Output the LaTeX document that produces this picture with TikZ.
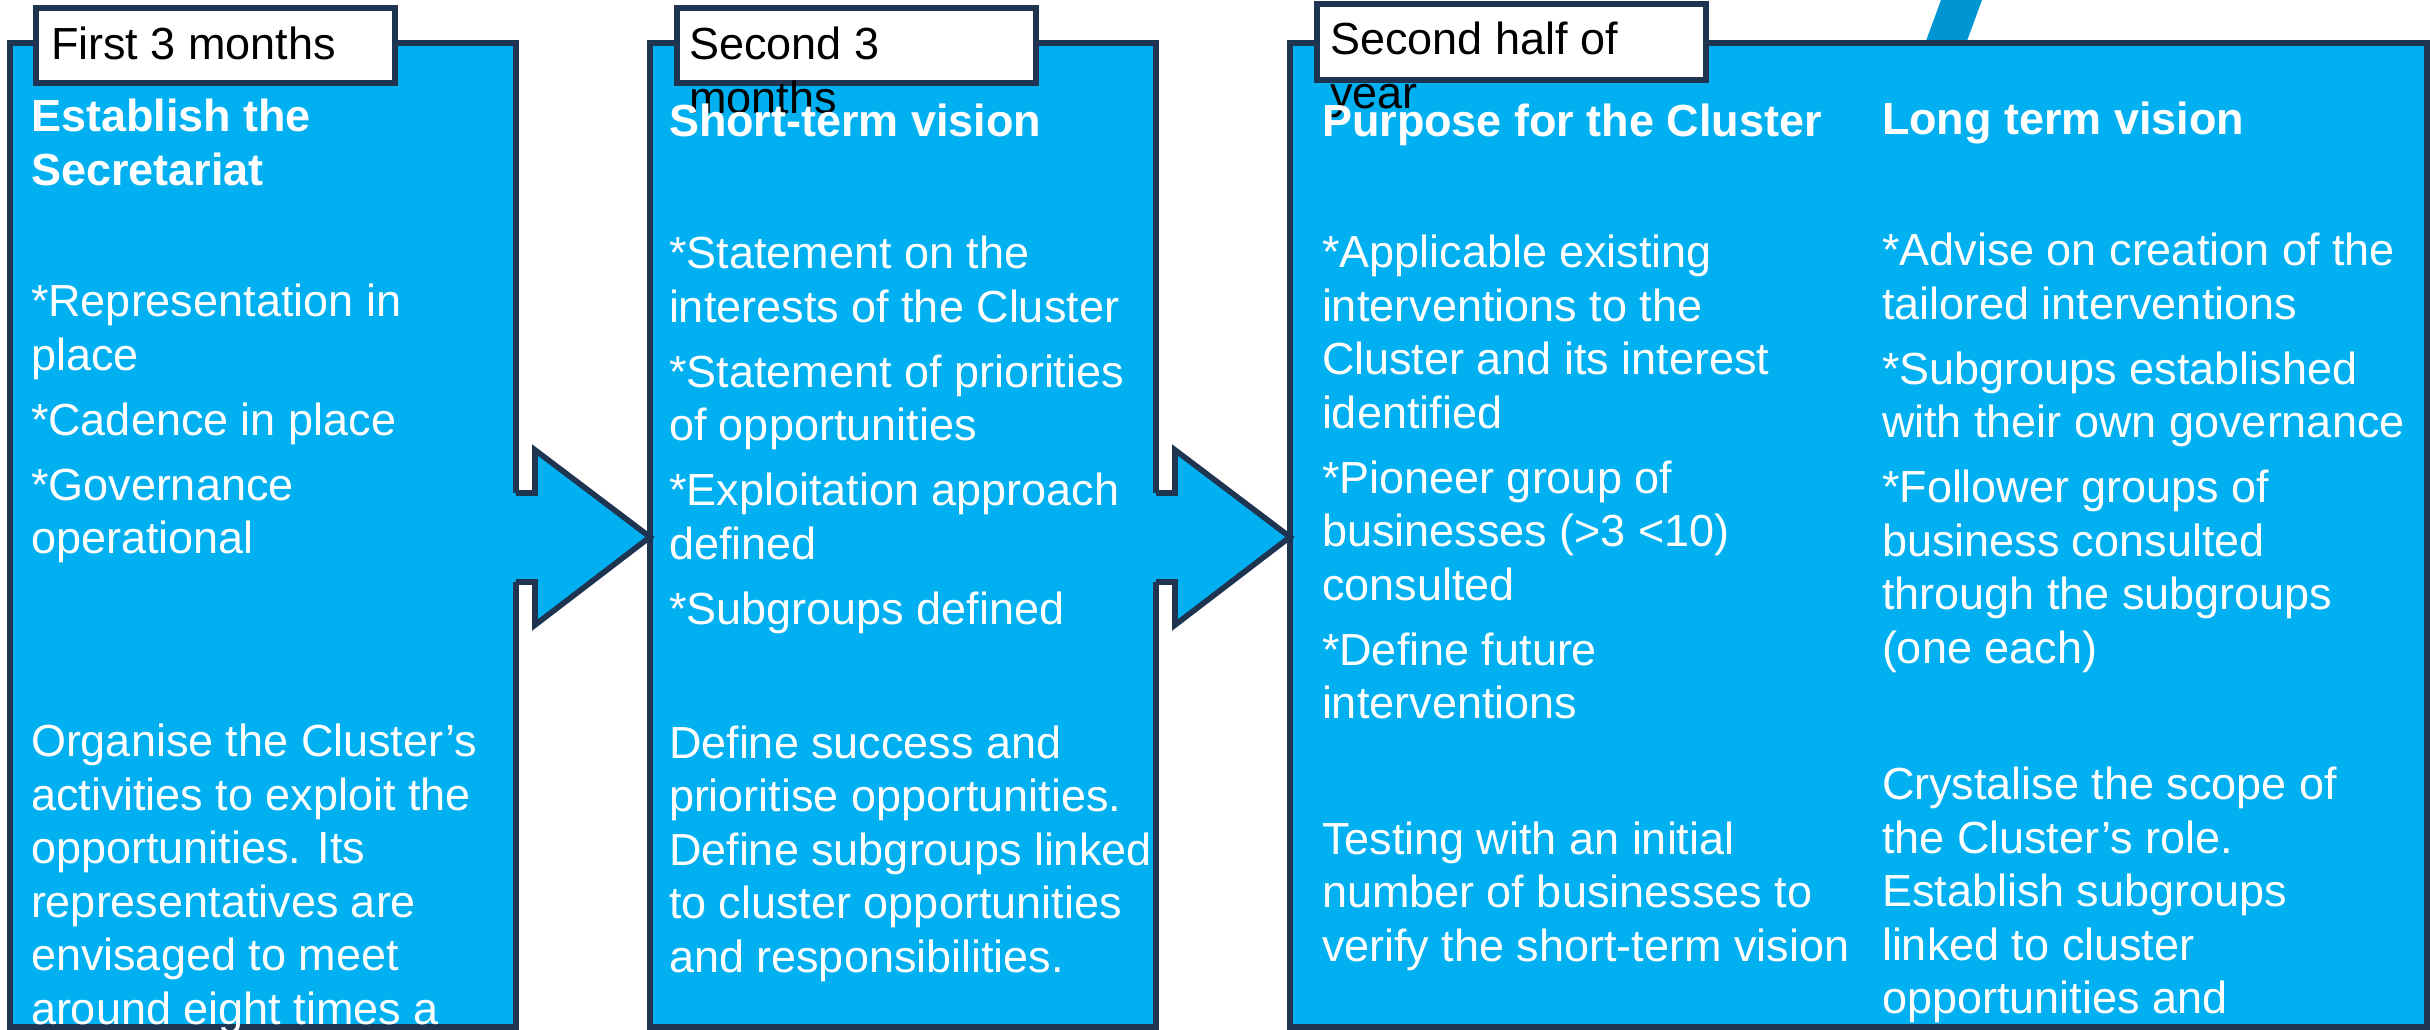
\documentclass[tikz,border=0pt]{standalone}
\usepackage{fontspec}
\setmainfont{Liberation Sans}
\usepackage{tikz}
\definecolor{panelblue}{RGB}{0,176,240}
\definecolor{edgenavy}{RGB}{30,52,80}
\definecolor{slashblue}{RGB}{0,150,212}

\begin{document}
\begin{tikzpicture}[x=0.1mm, y=-0.1mm, line width=1.6pt,
  every node/.style={inner sep=0pt, outer sep=0pt},
  panel/.style={draw=edgenavy, fill=panelblue, anchor=north west, minimum height=98.4mm},
  tab/.style={draw=edgenavy, fill=white, anchor=north west, minimum height=7.5mm},
  txt/.style={anchor=north west, align=left, font=\fontsize{12.8}{15.2}\selectfont},
  bodytxt/.style={txt, text=white},
  headtxt/.style={txt, text=white, font=\fontsize{12.8}{15.2}\selectfont\bfseries}]
\useasboundingbox (0,0) rectangle (2430,1030);
\clip (0,0) rectangle (2430,1030);

\fill[slashblue] (1941,0) -- (1982,0) -- (1960,60) -- (1919,60) -- cycle;

\node[panel, minimum width=50.6mm] (box1) at (10,43) {};
\node[panel, minimum width=50.6mm] (box2) at (650,43) {};
\node[panel, minimum width=113.7mm] (box3) at (1290,43) {};

\foreach \a/\b in {box1/box2, box2/box3} {
  \fill[panelblue] ([shift={(-4,-42)}]\a.east) -- ([shift={(19,-42)}]\a.east) -- ([shift={(19,-85)}]\a.east)
    -- ([shift={(0,2)}]\b.west) -- ([shift={(19,90)}]\a.east) -- ([shift={(19,47)}]\a.east) -- ([shift={(-4,47)}]\a.east) -- cycle;
  \draw[edgenavy] ([shift={(0,-42)}]\a.east) -- ([shift={(19,-42)}]\a.east) -- ([shift={(19,-85)}]\a.east)
    -- ([shift={(0,2)}]\b.west) -- ([shift={(19,90)}]\a.east) -- ([shift={(19,47)}]\a.east) -- ([shift={(0,47)}]\a.east);
}

\node[tab, minimum width=35.9mm] (tab1) at (36,8) {};
\node[tab, minimum width=35.9mm] (tab2) at (677,8) {};
\node[tab, minimum width=38.9mm, minimum height=7.6mm] (tab3) at (1317,4) {};

\node[txt] (tab1txt) at (51,22.5) {\strut First 3 months};
\node[txt] (tab2txt) at (689,22.5) {\strut Second 3\\months};
\node[txt] (tab3txt) at (1330,17.5) {\strut Second half of\\year};

\node[headtxt] (head1) at (31,94.5) {\strut Establish the\\Secretariat};
\node[bodytxt] (list1) at (31,279.5) {\strut *Representation in\\place\\[3.3pt]*Cadence in place\\[3.3pt]*Governance\\operational};
\node[bodytxt] (note1) at (31,719.5) {\strut Organise the Cluster’s\\activities to exploit the\\opportunities. Its\\representatives are\\envisaged to meet\\around eight times a};

\node[headtxt] (head2) at (669,99.5) {\strut Short-term vision};
\node[bodytxt] (list2) at (669,231.5) {\strut *Statement on the\\interests of the Cluster\\[3.3pt]*Statement of priorities\\of opportunities\\[3.3pt]*Exploitation approach\\defined\\[3.3pt]*Subgroups defined};
\node[bodytxt] (note2) at (669,721) {\strut Define success and\\prioritise opportunities.\\Define subgroups linked\\to cluster opportunities\\and responsibilities.};

\node[headtxt] (head3) at (1322,99.5) {\strut Purpose for the Cluster};
\node[bodytxt] (list3) at (1322,230.5) {\strut *Applicable existing\\interventions to the\\Cluster and its interest\\identified\\[3.3pt]*Pioneer group of\\businesses (>3 <10)\\consulted\\[3.3pt]*Define future\\interventions};
\node[bodytxt] (note3) at (1322,817) {\strut Testing with an initial\\number of businesses to\\verify the short-term vision};

\node[headtxt] (head4) at (1882,97.5) {\strut Long term vision};
\node[bodytxt] (list4) at (1882,228.5) {\strut *Advise on creation of the\\tailored interventions\\[3.3pt]*Subgroups established\\with their own governance\\[3.3pt]*Follower groups of\\business consulted\\through the subgroups\\(one each)};
\node[bodytxt] (note4) at (1882,762.5) {\strut Crystalise the scope of\\the Cluster’s role.\\Establish subgroups\\linked to cluster\\opportunities and};
\end{tikzpicture}
\end{document}
